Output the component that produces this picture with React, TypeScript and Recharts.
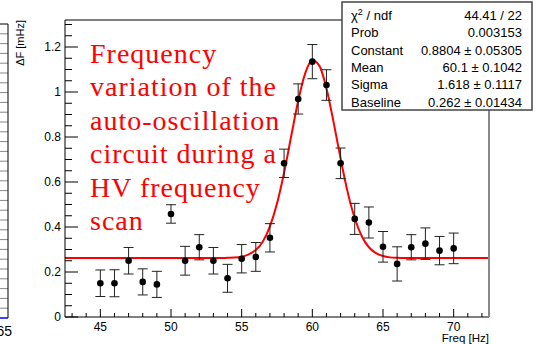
import React from 'react';
import { ComposedChart, Scatter, Line, XAxis, YAxis, ErrorBar } from 'recharts';

// Measured points
const freqs = [45, 46, 47, 48, 49, 50, 51, 52, 53, 54, 55, 56, 57, 58, 59, 60, 61, 62, 63, 64, 65, 66, 67, 68, 69, 70];
const deltaF = [0.150, 0.150, 0.250, 0.156, 0.145, 0.458, 0.250, 0.310, 0.250, 0.172, 0.259, 0.267, 0.352, 0.683, 0.969, 1.135, 1.031, 0.683, 0.436, 0.420, 0.312, 0.236, 0.310, 0.326, 0.295, 0.305];
const deltaFErr = [0.059, 0.060, 0.059, 0.058, 0.058, 0.041, 0.064, 0.056, 0.059, 0.062, 0.063, 0.064, 0.063, 0.063, 0.067, 0.076, 0.068, 0.068, 0.069, 0.069, 0.068, 0.076, 0.056, 0.070, 0.063, 0.068];

// Fit curve
const fitX = [42.5, 53, 53.5, 54, 54.5, 55, 55.5, 56, 56.5, 57, 57.5, 58, 58.5, 59, 59.5, 60, 60.5, 61, 61.5, 62, 62.5, 63, 63.5, 64, 64.5, 65, 65.5, 66, 66.5, 67, 72.5];
const fitY = [0.262, 0.262, 0.262, 0.263, 0.264, 0.268, 0.278, 0.298, 0.336, 0.403, 0.504, 0.641, 0.802, 0.961, 1.084, 1.141, 1.116, 1.016, 0.867, 0.704, 0.555, 0.439, 0.359, 0.310, 0.284, 0.271, 0.265, 0.263, 0.262, 0.262, 0.262];

// Ticks
const xTicks = Array.from({ length: 30 }, (_, i) => 43 + i);
const yTicks = Array.from({ length: 27 }, (_, i) => Math.round(i * 5) / 100);

// Stats box
const statLabels = ['χ2 / ndf', 'Prob', 'Constant', 'Mean', 'Sigma', 'Baseline'];
const statValues = ['44.41 / 22', '0.003153', '0.8804 ± 0.05305', '60.1 ± 0.1042', '1.618 ± 0.1117', '0.262 ± 0.01434'];

// Annotation text
const noteLines = ['Frequency', 'variation of the', 'auto-oscillation', 'circuit during a', 'HV frequency', 'scan'];

const points = freqs.map((x, i) => ({ x, y: deltaF[i], err: deltaFErr[i] }));
const fit = fitX.map((x, i) => ({ x, y: fitY[i] }));

const SANS = '"Liberation Sans", Arial, Helvetica, sans-serif';

const XTick = (props: any) => {
  const { x, y, payload } = props;
  const v = payload.value;
  const major = v % 5 === 0;
  return (
    <g>
      <line x1={x} x2={x} y1={y} y2={y - (major ? 8 : 4)} stroke="#000" strokeWidth={1} />
      {major && (
        <text x={x} y={y + 14} textAnchor="middle" fontSize={12} fontFamily={SANS} fill="#000">
          {v}
        </text>
      )}
    </g>
  );
};

const YTick = (props: any) => {
  const { x, y, payload } = props;
  const v = payload.value;
  const major = Math.round(v * 100) % 20 === 0;
  return (
    <g>
      <line x1={x} x2={x + (major ? 13 : 7)} y1={y} y2={y} stroke="#000" strokeWidth={1} />
      {major && (
        <text x={x - 4} y={y + 4} textAnchor="end" fontSize={12} fontFamily={SANS} fill="#000">
          {v}
        </text>
      )}
    </g>
  );
};

const Dot = (p: any) => <circle cx={p.cx} cy={p.cy} r={3.3} fill="#000" />;

const leftLines = Array.from({ length: 30 }, (_, i) => i);

export default function App() {
  return (
    <div style={{ position: 'absolute', left: 0, top: 0, width: 539, height: 344, background: '#fff', overflow: 'hidden' }}>
      <ComposedChart width={539} height={344} margin={{ top: 0, right: 0, bottom: 0, left: 0 }}>
        <XAxis
          xAxisId={0}
          dataKey="x"
          type="number"
          domain={[42.5, 72.5]}
          ticks={xTicks}
          interval={0}
          tickSize={0}
          tickMargin={0}
          height={27}
          tick={<XTick />}
          axisLine={{ stroke: '#000', strokeWidth: 1 }}
          allowDataOverflow
        />
        <XAxis
          xAxisId="top"
          orientation="top"
          type="number"
          domain={[42.5, 72.5]}
          height={20}
          tick={false}
          tickLine={false}
          axisLine={{ stroke: '#000', strokeWidth: 1 }}
        />
        <YAxis
          yAxisId={0}
          type="number"
          domain={[0, 1.32]}
          ticks={yTicks}
          interval={0}
          tickSize={0}
          tickMargin={0}
          width={65}
          tick={<YTick />}
          axisLine={{ stroke: '#000', strokeWidth: 1 }}
          allowDataOverflow
        />
        <YAxis
          yAxisId="right"
          orientation="right"
          type="number"
          domain={[0, 1.32]}
          width={50}
          tick={false}
          tickLine={false}
          axisLine={{ stroke: '#888', strokeWidth: 2 }}
        />
        <Line
          data={fit}
          dataKey="y"
          type="monotone"
          stroke="#ff0000"
          strokeWidth={2}
          dot={false}
          activeDot={false}
          isAnimationActive={false}
        />
        <Scatter data={points} dataKey="y" shape={<Dot />} isAnimationActive={false}>
          <ErrorBar dataKey="err" direction="y" width={5} stroke="#222" strokeWidth={1} isAnimationActive={false} />
        </Scatter>
      </ComposedChart>
      <svg
        width={539}
        height={344}
        style={{ position: 'absolute', left: 0, top: 0, pointerEvents: 'none' }}
      >
        {/* fragment of neighbouring figure */}
        {leftLines.map((i) => (
          <line key={i} x1={0} x2={8} y1={24 + i * 9.8} y2={24 + i * 9.8} stroke={i === 0 ? '#000' : '#888'} strokeWidth={1} />
        ))}
        <line x1={8} x2={8} y1={24} y2={318} stroke="#000" strokeWidth={1} />
        <line x1={0} x2={8} y1={318} y2={318} stroke="#0000ff" strokeWidth={1.5} />
        <text x={12} y={336} textAnchor="end" fontSize={14} fontFamily={SANS} fill="#000">65</text>

        {/* axis titles */}
        <text
          transform="translate(24,20) rotate(-90)"
          textAnchor="end"
          fontSize={11}
          fontFamily={SANS}
          fill="#000"
        >
          ΔF [mHz]
        </text>
        <text x={489} y={342} textAnchor="end" fontSize={11.5} fontFamily={SANS} fill="#000">
          Freq [Hz]
        </text>

        {/* annotation */}
        {noteLines.map((t, i) => (
          <text
            key={t}
            x={90}
            y={63 + i * 33.4}
            fontSize={28}
            letterSpacing={1}
            fontFamily='"Liberation Serif", "Times New Roman", serif'
            fill="#ff0000"
          >
            {t}
          </text>
        ))}

        {/* stats box */}
        <rect x={342} y={2} width={190} height={108} fill="#fff" stroke="#444" strokeWidth={1.5} />
        {statLabels.map((lab, i) => (
          <g key={lab}>
            <text x={351} y={20 + i * 17.35} fontSize={13} fontFamily={SANS} fill="#000">
              {i === 0 ? (
                <>
                  χ<tspan fontSize={9} dy={-5}>2</tspan>
                  <tspan dy={5}> / ndf</tspan>
                </>
              ) : (
                lab
              )}
            </text>
            <text x={522} y={20 + i * 17.35} textAnchor="end" fontSize={13} fontFamily={SANS} fill="#000">
              {statValues[i]}
            </text>
          </g>
        ))}
      </svg>
    </div>
  );
}
